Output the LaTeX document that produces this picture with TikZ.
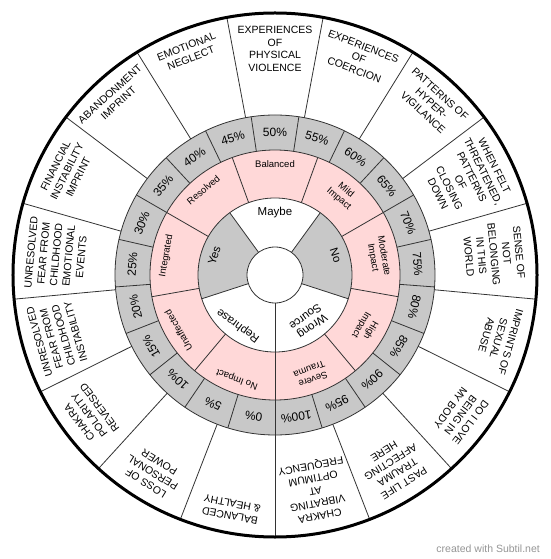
\documentclass[tikz,border=0pt]{standalone}
\usepackage{fontspec}
\setmainfont{Liberation Sans}
\begin{document}
\begin{tikzpicture}[x=1pt,y=1pt,
  divline/.style={draw=black!80, line width=0.8pt},
  outertext/.style={anchor=north, inner sep=0pt, align=center, font=\fontsize{10.5}{12.6}\selectfont},
  pcttext/.style={anchor=center, inner sep=0pt, font=\fontsize{12}{14}\selectfont},
  pinktext/.style={anchor=north, inner sep=0pt, align=center, font=\fontsize{9.5}{11}\selectfont},
  innertext/.style={anchor=north, inner sep=0pt, align=center, font=\fontsize{11.5}{12}\selectfont}]
\definecolor{ringgray}{RGB}{200,200,200}
\definecolor{ringpink}{RGB}{255,216,216}
\definecolor{credit}{RGB}{150,150,150}
\useasboundingbox[fill=white] (-275,-284) rectangle (275,275);
% rings
\fill[white] (0,0) circle[radius=262pt];
\fill[ringgray, even odd rule] (0,0) circle[radius=160pt] circle[radius=125pt];
\fill[ringpink, even odd rule] (0,0) circle[radius=125pt] circle[radius=77pt];
\fill[white] (0,0) circle[radius=77pt];
% Yes / No gray sectors
\fill[ringgray] (126:28pt) -- (126:77pt) arc[start angle=126, end angle=198, radius=77pt] -- (198:28pt) -- cycle;
\fill[ringgray] (-18:28pt) -- (-18:77pt) arc[start angle=-18, end angle=54, radius=77pt] -- (54:28pt) -- cycle;
\fill[white] (0,0) circle[radius=28pt];
% dividers
\foreach \a in {54,126,198,270,342} \draw[divline] (\a:28pt) -- (\a:77pt);
\foreach \k in {0,...,8} \draw[divline] ({70+40*\k}:77pt) -- ({70+40*\k}:125pt);
\foreach \k in {0,...,20} \draw[divline] ({81.4286-17.142857*\k}:125pt) -- ({81.4286-17.142857*\k}:160pt);
\foreach \k in {0,...,16} \draw[divline] ({79.4118-21.17647*\k}:160pt) -- ({79.4118-21.17647*\k}:262pt);
% circles
\foreach \r in {28,77,125,160} \draw[divline] (0,0) circle[radius=\r pt];
\draw[black, line width=3pt] (0,0) circle[radius=262pt];
% inner ring labels
\foreach \a/\t [count=\n] in {90/Maybe, 18/No, -54/{Wrong\\Source}, -126/Rephrase, 162/Yes}
  \node[innertext, rotate=\a-90] (in\n) at (\a:68pt) {\t};
% pink ring labels
\foreach \a/\t [count=\n] in {90/Balanced, 50/{Mild\\Impact}, 10/{Moderate\\Impact}, -30/{High\\Impact}, -70/{Severe\\Trauma}, -110/{No Impact}, -150/Unaffected, 170/Integrated, 130/Resolved}
  \node[pinktext, rotate=\a-90] (pk\n) at (\a:115pt) {\t};
% percent ring
\foreach \i in {0,...,20} {
  \pgfmathtruncatemacro\v{5*\i}
  \pgfmathsetmacro\a{261.42857-17.142857*\i}
  \node[pcttext, rotate=\a-90] (pc\i) at (\a:143pt) {\v\%};
}
% outer labels
\foreach \t [count=\n from 0] in {
  {EXPERIENCES\\OF\\PHYSICAL\\VIOLENCE},
  {EXPERIENCES\\OF\\COERCION},
  {PATTERNS OF\\HYPER-\\VIGILANCE},
  {WHEN FELT\\THREATENED,\\PATTERNS\\OF\\CLOSING\\DOWN},
  {SENSE OF\\NOT\\BELONGING\\IN THIS\\WORLD},
  {IMPRINTS OF\\SEXUAL\\ABUSE},
  {DO I LOVE\\BEING IN\\MY BODY},
  {PAST LIFE\\TRAUMA\\AFFECTING\\HERE},
  {CHAKRA\\VIBRATING\\AT\\OPTIMUM\\FREQUENCY},
  {BALANCED\\\& HEALTHY},
  {LOSS OF\\PERSONAL\\POWER},
  {CHAKRA\\POLARITY\\REVERSED},
  {UNRESOLVED\\FEAR FROM\\CHILDHOOD\\INSTABILITY},
  {UNRESOLVED\\FEAR FROM\\CHILDHOOD\\EMOTIONAL\\EVENTS},
  {FINANCIAL\\INSTABILITY\\IMPRINT},
  {ABANDONMENT\\IMPRINT},
  {EMOTIONAL\\NEGLECT}} {
  \pgfmathsetmacro\a{90-21.17647*\n}
  \node[outertext, rotate=\a-90] (out\n) at (\a:249pt) {\t};
}
% credit
\node[anchor=east, inner sep=0pt, text=credit, font=\fontsize{10.5}{12}\selectfont] (credit) at (265,-274) {created with Subtil.net};
\end{tikzpicture}
\end{document}
